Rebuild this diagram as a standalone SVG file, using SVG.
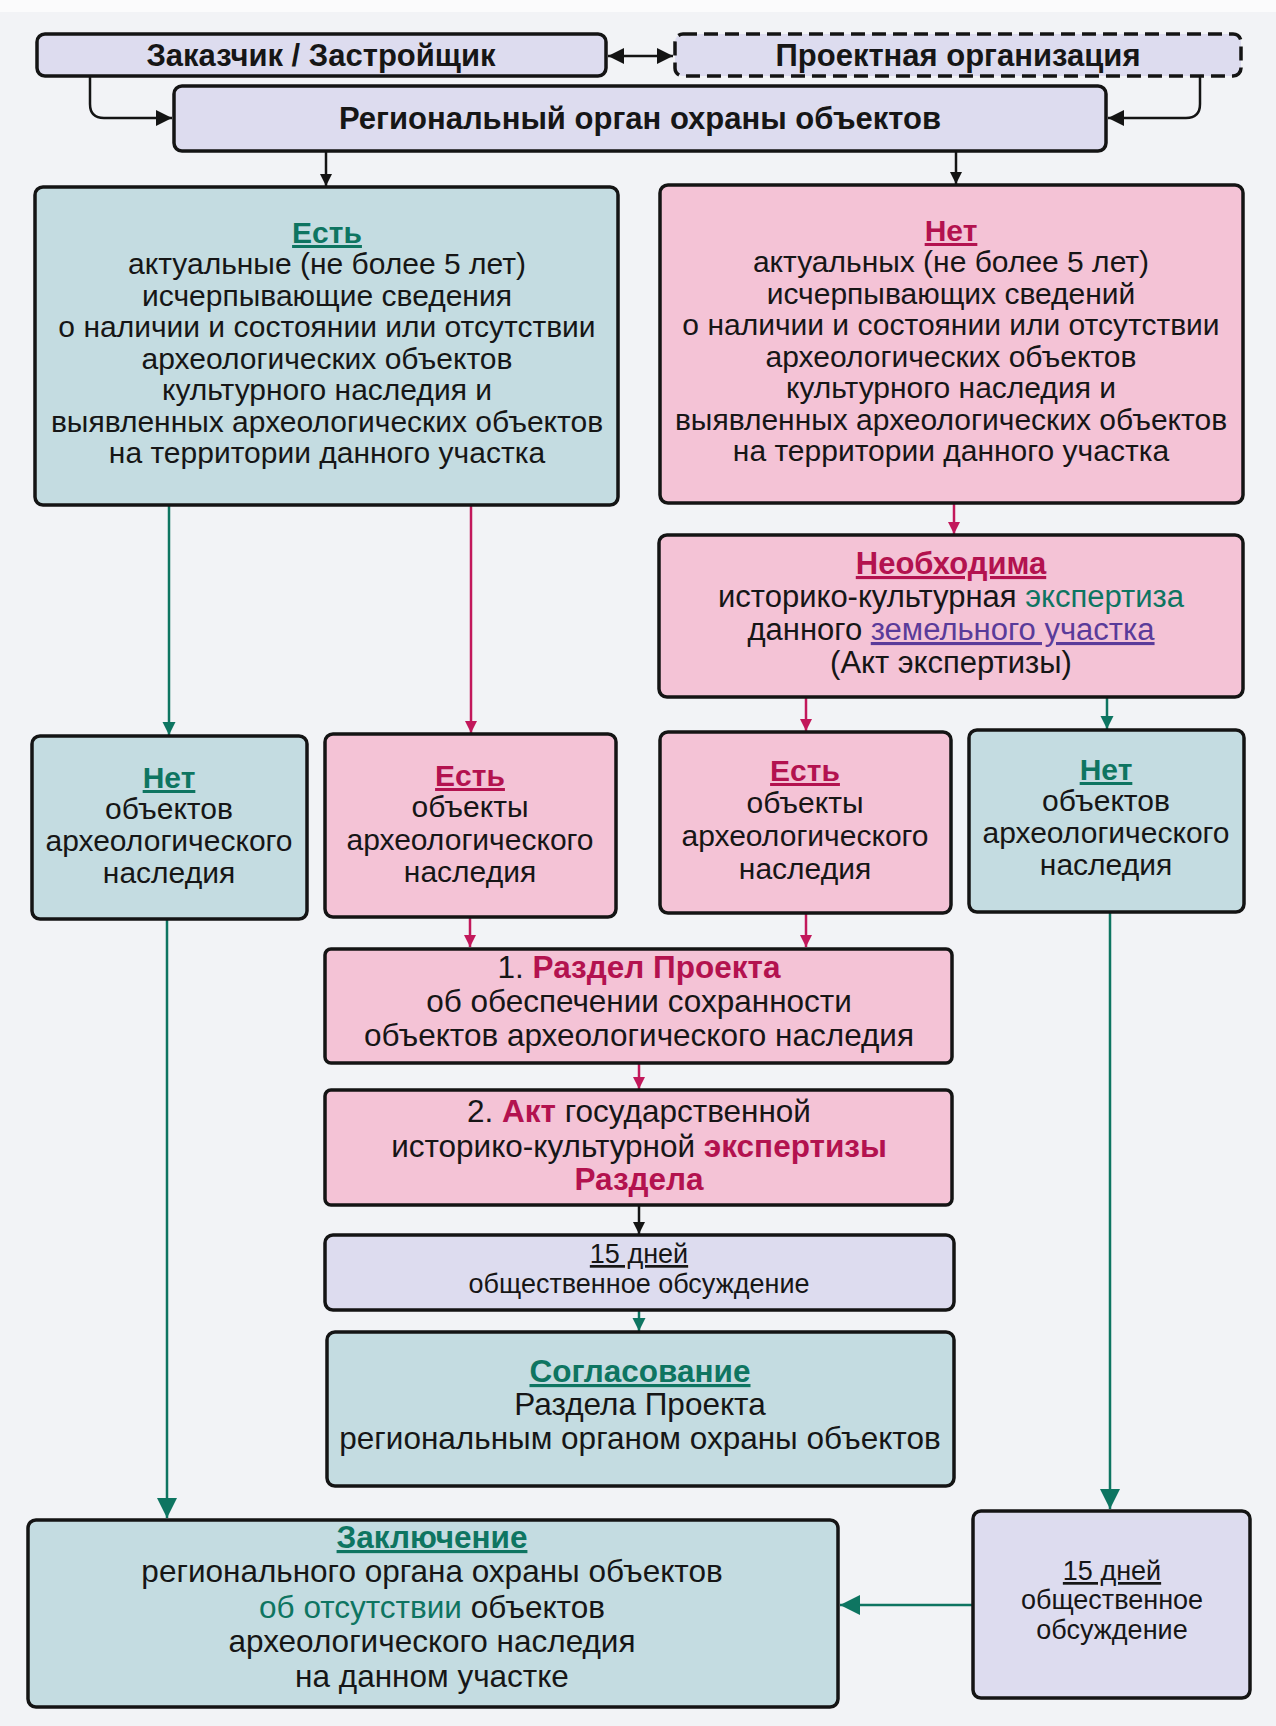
<svg xmlns="http://www.w3.org/2000/svg" width="1276" height="1726" viewBox="0 0 1276 1726">
<defs>
<style>
.bx{stroke:#141414;stroke-width:3.5}
.blue{fill:#c4dce1}
.pink{fill:#f4c3d6}
.lav{fill:#dddcef}
text{font-family:"Liberation Sans",Arial,sans-serif;fill:#161616;text-anchor:middle}
.b{font-weight:bold}
.g{fill:#0e7561}
.r{fill:#b3124f}
.u{text-decoration:underline}
.p{fill:#5a3b9a}
.ln{fill:none;stroke-width:2.5}
.k{stroke:#141414}
.gl{stroke:#0e7561}
.pl{stroke:#c2185b}
</style>
<marker id="ak" viewBox="0 0 10 10" refX="10" refY="5" markerUnits="userSpaceOnUse" markerWidth="12" markerHeight="13" orient="auto"><path d="M0,0L10,5L0,10z" fill="#141414"/></marker>
<marker id="akb" viewBox="0 0 10 10" refX="10" refY="5" markerUnits="userSpaceOnUse" markerWidth="16" markerHeight="17" orient="auto-start-reverse"><path d="M0,0L10,5L0,10z" fill="#141414"/></marker>
<marker id="ap" viewBox="0 0 10 10" refX="10" refY="5" markerUnits="userSpaceOnUse" markerWidth="12" markerHeight="14" orient="auto"><path d="M0,0L10,5L0,10z" fill="#c2185b"/></marker>
<marker id="ag" viewBox="0 0 10 10" refX="10" refY="5" markerUnits="userSpaceOnUse" markerWidth="13" markerHeight="15" orient="auto"><path d="M0,0L10,5L0,10z" fill="#0e7561"/></marker>
<marker id="agb" viewBox="0 0 10 10" refX="10" refY="5" markerUnits="userSpaceOnUse" markerWidth="20" markerHeight="24" orient="auto"><path d="M0,0L10,5L0,10z" fill="#0e7561"/></marker>
</defs>
<rect width="1276" height="1726" fill="#f2f3f6"/>
<rect width="1276" height="12" fill="#fbfbfc"/>

<g id="connectors">
<path class="ln k" stroke-width="3" d="M90,77 L90,104 Q90,118 104,118 L172,118" marker-end="url(#akb)"/>
<path class="ln k" stroke-width="3" d="M1200,76 L1200,104 Q1200,118 1186,118 L1108,118" marker-end="url(#akb)"/>
<path class="ln k" stroke-width="3" d="M608,56 L673,56" marker-start="url(#akb)" marker-end="url(#akb)"/>
<path class="ln k" d="M326,151 L326,186" marker-end="url(#ak)"/>
<path class="ln k" d="M956,151 L956,184" marker-end="url(#ak)"/>
<path class="ln gl" d="M169,505 L169,735" marker-end="url(#ag)"/>
<path class="ln pl" d="M471,505 L471,733" marker-end="url(#ap)"/>
<path class="ln pl" d="M954,503 L954,534" marker-end="url(#ap)"/>
<path class="ln pl" d="M806,697 L806,731" marker-end="url(#ap)"/>
<path class="ln gl" d="M1107,697 L1107,729" marker-end="url(#ag)"/>
<path class="ln pl" d="M470,917 L470,947" marker-end="url(#ap)"/>
<path class="ln pl" d="M806,913 L806,947" marker-end="url(#ap)"/>
<path class="ln pl" d="M639,1063 L639,1089" marker-end="url(#ap)"/>
<path class="ln k" d="M639,1205 L639,1234" marker-end="url(#ak)"/>
<path class="ln gl" d="M639,1310 L639,1331" marker-end="url(#ag)"/>
<path class="ln gl" stroke-width="2.8" d="M167,919 L167,1518" marker-end="url(#agb)"/>
<path class="ln gl" stroke-width="2.8" d="M1110,912 L1110,1509" marker-end="url(#agb)"/>
<path class="ln gl" stroke-width="4" d="M973,1605 L840,1605" marker-end="url(#agb)"/>
</g>

<g id="n-zakazchik">
<rect class="bx lav" x="37" y="34" width="569" height="42" rx="8"/>
<text class="b" x="321" y="66" font-size="31">Заказчик / Застройщик</text>
</g>
<g id="n-proekt">
<rect class="lav" x="675" y="34" width="566" height="42" rx="8" stroke="#141414" stroke-width="3.5" stroke-dasharray="14 7"/>
<text class="b" x="958" y="66" font-size="31">Проектная организация</text>
</g>
<g id="n-region">
<rect class="bx lav" x="174" y="86" width="932" height="65" rx="8"/>
<text class="b" x="640" y="129" font-size="31">Региональный орган охраны объектов</text>
</g>

<g id="n-est-big" font-size="30">
<rect class="bx blue" x="35" y="187" width="583" height="318" rx="8"/>
<text class="b g u" x="327" y="243">Есть</text>
<text x="327" y="274">актуальные (не более 5 лет)</text>
<text x="327" y="306">исчерпывающие сведения</text>
<text x="327" y="337">о наличии и состоянии или отсутствии</text>
<text x="327" y="369">археологических объектов</text>
<text x="327" y="400">культурного наследия и</text>
<text x="327" y="432">выявленных археологических объектов</text>
<text x="327" y="463">на территории данного участка</text>
</g>

<g id="n-net-big" font-size="30">
<rect class="bx pink" x="660" y="185" width="583" height="318" rx="8"/>
<text class="b r u" x="951" y="241">Нет</text>
<text x="951" y="272">актуальных (не более 5 лет)</text>
<text x="951" y="304">исчерпывающих сведений</text>
<text x="951" y="335">о наличии и состоянии или отсутствии</text>
<text x="951" y="367">археологических объектов</text>
<text x="951" y="398">культурного наследия и</text>
<text x="951" y="430">выявленных археологических объектов</text>
<text x="951" y="461">на территории данного участка</text>
</g>

<g id="n-neobh" font-size="31">
<rect class="bx pink" x="659" y="535" width="584" height="162" rx="8"/>
<text class="b r u" x="951" y="574">Необходима</text>
<text x="951" y="607">историко-культурная <tspan class="g">экспертиза</tspan></text>
<text x="951" y="640">данного <tspan class="p u">земельного участка</tspan></text>
<text x="951" y="673">(Акт экспертизы)</text>
</g>

<g id="n-net-left" font-size="30">
<rect class="bx blue" x="32" y="736" width="275" height="183" rx="8"/>
<text class="b g u" x="169" y="788">Нет</text>
<text x="169" y="819">объектов</text>
<text x="169" y="851">археологического</text>
<text x="169" y="883">наследия</text>
</g>
<g id="n-est-left" font-size="30">
<rect class="bx pink" x="325" y="734" width="291" height="183" rx="8"/>
<text class="b r u" x="470" y="786">Есть</text>
<text x="470" y="817">объекты</text>
<text x="470" y="850">археологического</text>
<text x="470" y="882">наследия</text>
</g>
<g id="n-est-right" font-size="30">
<rect class="bx pink" x="660" y="732" width="291" height="181" rx="8"/>
<text class="b r u" x="805" y="781">Есть</text>
<text x="805" y="813">объекты</text>
<text x="805" y="846">археологического</text>
<text x="805" y="879">наследия</text>
</g>
<g id="n-net-right" font-size="30">
<rect class="bx blue" x="969" y="730" width="275" height="182" rx="8"/>
<text class="b g u" x="1106" y="780">Нет</text>
<text x="1106" y="811">объектов</text>
<text x="1106" y="843">археологического</text>
<text x="1106" y="875">наследия</text>
</g>

<g id="n-razdel" font-size="31.5">
<rect class="bx pink" x="325" y="949" width="627" height="114" rx="6"/>
<text x="639" y="978">1. <tspan class="b r">Раздел Проекта</tspan></text>
<text x="639" y="1012">об обеспечении сохранности</text>
<text x="639" y="1046">объектов археологического наследия</text>
</g>
<g id="n-akt" font-size="31.5">
<rect class="bx pink" x="325" y="1090" width="627" height="115" rx="6"/>
<text x="639" y="1122">2. <tspan class="b r">Акт</tspan> государственной</text>
<text x="639" y="1157">историко-культурной <tspan class="b r">экспертизы</tspan></text>
<text class="b r" x="639" y="1190">Раздела</text>
</g>
<g id="n-15-mid" font-size="27">
<rect class="bx lav" x="325" y="1235" width="629" height="75" rx="8"/>
<text class="u" x="639" y="1263">15 дней</text>
<text x="639" y="1293">общественное обсуждение</text>
</g>
<g id="n-soglas" font-size="31.5">
<rect class="bx blue" x="327" y="1332" width="627" height="154" rx="8"/>
<text class="b g u" x="640" y="1382">Согласование</text>
<text x="640" y="1415">Раздела Проекта</text>
<text x="640" y="1449">региональным органом охраны объектов</text>
</g>
<g id="n-zakl" font-size="31.5">
<rect class="bx blue" x="28" y="1520" width="810" height="187" rx="8"/>
<text class="b g u" x="432" y="1548">Заключение</text>
<text x="432" y="1582">регионального органа охраны объектов</text>
<text x="432" y="1618"><tspan class="g">об отсутствии</tspan> объектов</text>
<text x="432" y="1652">археологического наследия</text>
<text x="432" y="1687">на данном участке</text>
</g>
<g id="n-15-right" font-size="27">
<rect class="bx lav" x="973" y="1511" width="277" height="187" rx="8"/>
<text class="u" x="1112" y="1580">15 дней</text>
<text x="1112" y="1609">общественное</text>
<text x="1112" y="1639">обсуждение</text>
</g>
</svg>
